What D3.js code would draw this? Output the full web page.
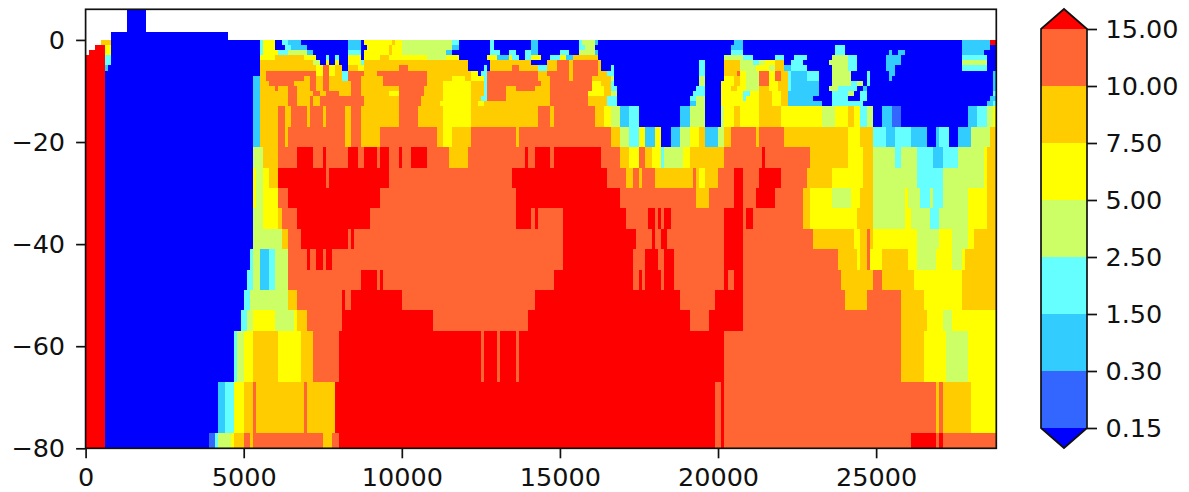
<!DOCTYPE html>
<html>
<head>
<meta charset="utf-8">
<script src="https://cdnjs.cloudflare.com/ajax/libs/d3/7.8.5/d3.min.js"></script>
<style>
    html, body {margin: 0; padding: 0; background: #fff;}
    svg {display: block;}
    text {font-family: "DejaVu Sans", sans-serif; fill: #111;}
</style>
</head>
<body>
<div class="content"></div>
<script>
// level index -> colour, 0 is below 0.15 and 8 is above 15
let levelColors = ['#0000ff', '#3366ff', '#33ccff', '#66ffff', '#ccff66', '#ffff00', '#ffcc00', '#ff6633', '#ff0000'];
let levelLabels = ['0.15', '0.30', '1.50', '2.50', '5.00', '7.50', '10.00', '15.00'];
let xTicks = [0, 5000, 10000, 15000, 20000, 25000];
let yTicks = [0, -20, -40, -60, -80];
let xMax = 28800;
let yTop = 6;
let xUnit = 100;

// edges of the depth layers, top to bottom
let depthEdges = [6, 1.6, 0, -1, -2, -3, -4, -5, -6, -7, -8, -9, -10, -11, -12, -13,
    -17, -21, -25, -29, -33, -37, -41, -45, -49, -53, -57, -67, -77, -80];

// one string per layer, runs of level:endX (endX in hundreds), w = no data
let layerRuns = [
    'w:13 0:19 w:288',
    'w:8 0:45 w:288',
    'w:5 6:8 0:55 3:56 5:60 0:62 3:64 2:68 0:83 2:87 0:88 5:97 6:98 5:100 4:116 3:118 0:128 3:129 0:141 2:143 0:156 3:157 4:161 2:162 0:205 2:208 0:277 2:286 8:288',
    'w:3 8:6 5:8 0:55 3:56 5:60 0:63 3:65 2:70 0:83 2:87 0:89 5:96 6:97 5:100 4:116 2:118 0:128 3:129 0:141 2:143 0:156 3:158 4:161 0:204 2:208 0:237 3:240 0:277 2:286 0:288',
    'w:1 8:6 5:8 0:55 3:56 5:61 3:64 4:70 2:72 0:83 3:87 0:88 5:96 6:97 5:100 4:114 2:116 0:128 3:131 0:134 3:136 0:139 3:141 2:143 0:150 3:153 0:156 4:161 2:162 0:204 3:208 0:237 3:240 0:254 2:255 0:257 2:259 0:277 2:284 0:288',
    '8:6 3:8 0:55 5:60 6:69 5:73 0:76 3:77 0:79 3:80 0:83 5:87 0:88 5:93 6:96 5:108 4:114 5:118 0:127 5:130 2:134 5:135 3:137 0:139 3:141 5:144 0:147 3:150 5:152 2:154 6:162 0:202 4:208 3:211 0:218 3:221 0:224 3:228 0:236 4:241 3:244 0:253 2:258 0:277 3:285 0:288',
    '8:6 3:8 0:55 6:72 4:74 0:76 5:77 0:79 5:80 0:83 5:87 3:88 6:121 0:128 6:141 0:146 6:149 7:153 6:154 7:162 6:163 0:194 3:196 0:202 6:207 4:211 3:213 4:215 5:218 6:221 0:223 3:227 0:235 4:241 3:244 0:253 2:258 0:277 4:285 0:288',
    '8:6 2:7 0:55 6:73 5:75 7:77 5:79 6:81 0:83 6:86 5:88 6:99 7:102 6:121 0:126 3:127 0:128 6:135 7:137 6:143 3:146 6:149 7:153 6:154 7:162 6:163 0:166 3:167 0:194 3:196 0:202 6:207 4:212 5:216 4:218 6:221 2:223 3:228 0:236 4:241 3:244 0:253 2:256 0:277 3:285 0:288',
    '8:6 0:55 6:57 7:73 5:75 7:77 5:79 6:81 3:83 7:88 6:92 7:108 6:122 5:124 0:125 3:127 7:143 6:146 7:153 6:154 7:162 6:165 3:167 0:194 3:196 0:202 6:206 7:207 5:209 4:213 7:216 5:218 7:220 6:222 3:223 2:228 3:232 0:236 4:242 0:247 3:248 0:254 2:256 0:287 2:288',
    '8:6 0:53 2:55 6:57 7:69 6:71 7:73 6:75 7:77 6:81 3:83 7:87 6:94 7:108 6:116 5:120 6:122 5:126 3:127 7:143 6:147 7:153 6:154 7:160 6:166 4:167 0:194 4:196 0:202 5:205 6:207 5:209 4:213 7:216 5:218 7:220 6:222 3:223 2:228 3:232 0:236 4:242 0:247 3:248 0:254 2:255 0:287 2:288',
    '8:6 0:53 2:55 6:58 7:66 6:71 7:73 6:75 7:77 6:84 7:87 6:94 7:108 6:113 5:122 6:126 3:127 7:144 6:147 7:160 5:163 6:166 3:167 0:194 4:196 0:201 5:205 6:207 5:209 4:213 7:216 5:219 6:222 3:223 2:232 0:236 4:242 3:244 4:246 0:247 3:248 0:287 2:288',
    '8:6 0:53 2:55 6:60 7:61 6:64 7:67 6:71 7:73 6:75 7:77 6:84 7:87 6:99 7:107 6:113 5:122 6:126 3:127 7:133 6:136 7:142 6:147 7:160 5:164 6:166 3:168 0:193 3:196 0:201 5:204 6:206 5:209 4:213 6:216 5:219 6:222 3:223 2:232 0:235 4:238 3:244 0:246 2:247 0:287 2:288',
    '8:6 0:53 2:55 6:64 7:67 6:72 7:74 6:76 7:80 6:84 7:87 6:96 5:99 7:107 6:113 5:122 6:126 3:127 7:133 6:147 7:159 5:164 6:166 4:168 0:192 3:196 0:201 5:208 3:210 5:213 6:217 5:220 6:222 2:232 0:236 3:241 4:243 0:245 3:247 0:287 3:288',
    '8:6 0:53 2:55 6:64 7:67 6:71 7:72 6:74 7:88 6:99 7:106 6:113 5:122 6:125 3:127 7:133 6:147 7:159 6:165 3:168 0:191 3:193 4:196 0:201 5:208 3:209 5:213 6:217 5:220 6:222 2:230 0:236 3:241 0:245 3:247 0:286 2:288',
    '8:6 0:53 2:55 6:64 7:67 6:71 7:72 6:74 7:88 6:99 7:106 6:112 5:122 6:124 5:126 6:147 7:159 6:165 3:168 0:191 2:193 4:196 0:201 5:213 6:217 5:220 6:222 2:233 0:236 3:246 0:285 2:287 3:288',
    '8:6 0:53 2:55 6:61 7:63 6:65 7:70 6:71 7:75 6:76 7:82 6:84 7:87 6:99 7:105 6:113 5:122 6:143 7:147 6:148 7:161 6:164 5:166 4:169 2:172 3:175 0:188 2:191 4:196 0:201 4:202 5:205 6:207 5:213 6:220 5:233 4:237 5:241 6:243 5:245 3:247 4:249 0:252 2:255 1:258 0:279 2:282 3:285 4:287 5:288',
    '8:6 0:53 2:55 6:61 7:63 6:64 7:82 6:84 7:87 6:93 7:111 6:113 5:116 6:122 7:136 6:137 7:166 6:169 4:172 3:175 5:177 2:180 5:182 0:185 2:188 4:191 5:194 6:196 2:200 4:202 6:204 7:212 6:213 7:221 6:241 5:245 6:249 3:253 2:256 3:261 2:266 0:269 2:270 3:273 0:276 2:280 4:286 6:288',
    '8:6 0:53 4:56 6:61 7:67 8:72 7:75 8:76 7:83 8:86 7:88 8:92 7:93 8:96 7:99 8:100 7:103 8:108 7:115 6:121 7:139 8:140 7:142 8:147 7:148 8:163 7:169 6:172 5:175 7:177 6:179 5:182 3:183 4:189 5:191 6:202 7:214 8:215 7:229 6:241 5:246 6:249 4:256 3:258 4:263 3:268 2:271 3:276 4:284 5:285 6:288',
    '8:6 0:53 5:54 4:56 5:58 6:61 8:76 7:77 8:96 7:135 8:165 7:171 6:173 7:175 6:176 7:180 6:192 7:193 6:194 5:196 6:200 7:205 8:208 7:213 8:220 7:228 6:236 5:246 6:249 4:263 3:271 4:284 5:285 6:288',
    '8:6 0:53 5:54 4:56 5:61 7:64 8:93 7:136 8:169 7:193 6:197 7:205 8:208 7:212 8:218 7:227 6:229 5:236 4:242 5:245 6:249 4:259 5:260 4:264 3:267 4:268 3:271 4:279 5:285 6:288',
    '8:6 0:53 4:56 5:61 6:62 7:67 8:90 7:136 8:141 7:142 8:143 7:151 8:171 7:178 8:180 7:181 8:182 7:183 8:185 7:202 8:208 7:209 8:211 7:227 6:229 5:244 6:249 4:259 5:261 4:267 3:270 4:279 5:285 6:288',
    '8:6 0:53 4:62 6:64 7:68 8:83 7:84 8:85 7:151 8:174 7:179 8:180 7:182 8:184 7:202 8:208 7:230 6:243 5:245 6:247 7:248 6:249 5:263 4:270 5:274 4:279 5:281 6:288',
    '8:6 0:52 3:53 4:55 2:58 3:60 4:64 7:70 8:71 7:73 8:75 7:76 8:78 7:151 8:173 7:177 8:181 7:183 8:186 7:202 8:208 7:238 6:244 5:245 6:247 7:248 5:252 6:260 5:263 4:269 5:274 4:277 5:278 6:288',
    '8:6 0:51 3:53 4:55 2:58 3:60 4:64 7:87 8:92 7:93 8:94 7:148 8:173 7:175 8:176 7:177 8:182 7:183 8:186 7:202 8:203 7:205 8:208 7:239 6:249 7:252 6:262 5:277 6:288',
    '8:6 0:50 3:52 4:64 6:67 7:81 8:82 7:84 8:100 7:142 8:188 7:199 8:208 7:240 6:247 7:258 6:265 5:277 6:288',
    '8:6 0:49 3:51 4:53 5:60 4:66 5:67 6:70 7:81 8:110 7:140 8:191 7:197 8:208 7:258 6:266 5:271 4:274 5:288',
    '8:6 0:47 3:48 4:50 5:53 6:61 5:68 6:72 7:80 8:125 7:126 8:130 7:131 8:136 7:137 8:202 7:258 6:265 5:272 4:279 5:288',
    '8:6 0:42 2:44 3:47 5:50 6:53 7:54 6:69 7:70 6:79 8:199 7:201 8:202 7:269 6:270 7:271 6:280 5:288',
    '8:6 0:39 1:41 3:42 4:46 5:47 6:50 7:52 6:53 7:75 6:78 7:80 8:199 7:201 8:202 7:261 8:269 7:270 8:271 7:288'
];

(function () {
    let fullWidth = 1189;
    let fullHeight = 492;
    let margin = {top: 9.3, right: 192.7, bottom: 43.7, left: 85.6};
    let width = fullWidth - margin.left - margin.right;
    let height = fullHeight - margin.top - margin.bottom;
    let lineWidth = 1.7;
    let fontSize = 25.5;

    let svg = d3.select('.content').append('svg')
        .attr('width', fullWidth)
        .attr('height', fullHeight);

    let xScale = d3.scaleLinear().domain([0, xMax]).range([0, width]);
    let yScale = d3.scaleLinear().domain([-80, yTop]).range([height, 0]);

    let chart = svg.append('g')
        .attr('transform', 'translate(' + margin.left + ',' + margin.top + ')');

    // turn the run strings into cells
    let cells = [];
    layerRuns.forEach(function (row, i) {
        let start = 0;
        row.split(' ').forEach(function (run) {
            let parts = run.split(':');
            let end = +parts[1] * xUnit;
            if (parts[0] !== 'w') {
                cells.push({x0: start, x1: end, top: depthEdges[i], bottom: depthEdges[i + 1], level: +parts[0]});
            }
            start = end;
        });
    });

    chart.append('g')
        .attr('shape-rendering', 'crispEdges')
        .selectAll('rect')
        .data(cells)
        .enter()
        .append('rect')
        .attr('x', function (d) { return xScale(d.x0); })
        .attr('y', function (d) { return yScale(d.top); })
        .attr('width', function (d) { return xScale(d.x1) - xScale(d.x0); })
        .attr('height', function (d) { return yScale(d.bottom) - yScale(d.top); })
        .attr('fill', function (d) { return levelColors[d.level]; });

    let xAxis = d3.axisBottom(xScale).tickValues(xTicks).tickSize(10).tickPadding(10).tickFormat(d3.format('d'));
    let yAxis = d3.axisLeft(yScale).tickValues(yTicks).tickSize(9.5).tickPadding(11)
        .tickFormat(function (d) { return d < 0 ? '\u2212' + Math.abs(d) : d; });

    let gX = chart.append('g').attr('transform', 'translate(0,' + height + ')').call(xAxis);
    let gY = chart.append('g').call(yAxis);

    chart.append('rect')
        .attr('width', width)
        .attr('height', height)
        .attr('fill', 'none')
        .attr('stroke', '#111')
        .attr('stroke-width', lineWidth);

    // colorbar
    let barX = 1041;
    let barWidth = 46;
    let barTop = 29;
    let barBottom = 428;
    let tipHeight = 20;
    let barScale = d3.scaleLinear().domain([0, levelLabels.length - 1]).range([barBottom, barTop]);

    let bar = svg.append('g').attr('transform', 'translate(' + barX + ',0)');

    bar.append('g')
        .attr('shape-rendering', 'crispEdges')
        .selectAll('rect')
        .data(d3.range(levelLabels.length - 1))
        .enter()
        .append('rect')
        .attr('x', 0)
        .attr('y', function (d) { return barScale(d + 1); })
        .attr('width', barWidth)
        .attr('height', function (d) { return barScale(d) - barScale(d + 1); })
        .attr('fill', function (d) { return levelColors[d + 1]; });

    bar.append('path')
        .attr('d', 'M0,' + barBottom + 'L' + barWidth / 2 + ',' + (barBottom + tipHeight) + 'L' + barWidth + ',' + barBottom + 'Z')
        .attr('fill', levelColors[0]);
    bar.append('path')
        .attr('d', 'M0,' + barTop + 'L' + barWidth / 2 + ',' + (barTop - tipHeight) + 'L' + barWidth + ',' + barTop + 'Z')
        .attr('fill', levelColors[8]);

    bar.append('path')
        .attr('d', 'M0,' + barTop + 'L' + barWidth / 2 + ',' + (barTop - tipHeight) + 'L' + barWidth + ',' + barTop
            + 'V' + barBottom + 'L' + barWidth / 2 + ',' + (barBottom + tipHeight) + 'L0,' + barBottom + 'Z')
        .attr('fill', 'none')
        .attr('stroke', '#111')
        .attr('stroke-width', lineWidth);

    let barAxis = d3.axisRight(barScale)
        .tickValues(d3.range(levelLabels.length))
        .tickSize(10)
        .tickPadding(8.5)
        .tickFormat(function (d) { return levelLabels[d]; });

    let gBar = bar.append('g').attr('transform', 'translate(' + barWidth + ',0)').call(barAxis);

    [gX, gY, gBar].forEach(function (g) {
        g.select('.domain').remove();
        g.selectAll('.tick line').attr('stroke', '#111').attr('stroke-width', lineWidth);
        g.selectAll('.tick text').attr('font-size', fontSize).attr('font-family', '"DejaVu Sans", sans-serif').attr('fill', '#111');
    });
})();
</script>
</body>
</html>
